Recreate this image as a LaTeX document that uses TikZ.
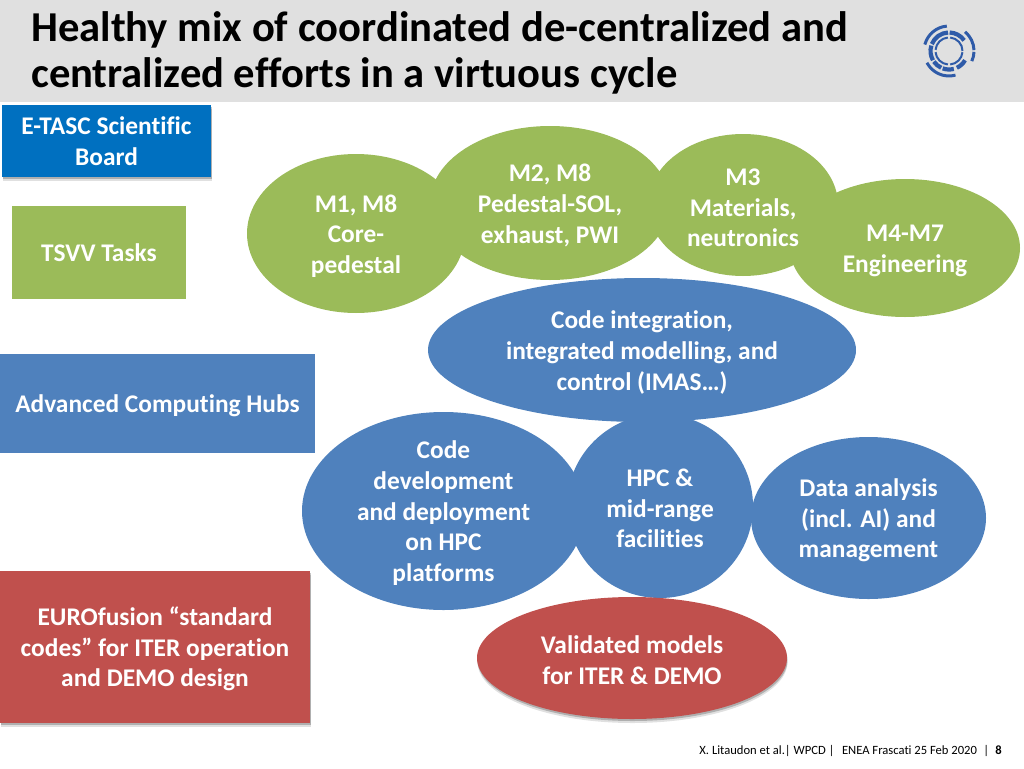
\documentclass[tikz,border=0pt]{standalone}
\usepackage{fontspec}
\setmainfont[Ligatures={NoCommon}]{Carlito}
\usetikzlibrary{shapes.geometric,shadows}
\definecolor{bandgray}{HTML}{E0E0E0}
\definecolor{boardblue}{HTML}{0070C0}
\definecolor{logoblue}{HTML}{2F5BA8}
\definecolor{tsvvgreen}{HTML}{9BBB59}
\definecolor{hubblue}{HTML}{4F81BD}
\definecolor{codered}{HTML}{C0504D}
\newcommand{\lowline}{\rule{0pt}{22.5pt}}
\tikzset{
  txt/.style={text=white,font=\bfseries\fontsize{25.4}{30.7}\selectfont,align=center,inner sep=0pt},
  blob/.style={shape=ellipse,txt,minimum width=#1},
  greenblob/.style={blob=#1,fill=tsvvgreen},
  blueblob/.style={blob=#1,fill=hubblue},
  softshadow/.style={drop shadow={shadow xshift=.5pt,shadow yshift=-4pt,opacity=.12,fill=black},
    drop shadow={shadow xshift=.5pt,shadow yshift=-2pt,opacity=.22,fill=black}},
  logoarc/.style={draw=logoblue,line width=#1}
}
\begin{document}
\begin{tikzpicture}[x=1pt,y=-1pt]
\useasboundingbox (0,0) rectangle (1024,768);
\fill [bandgray] (0,0) rectangle (1024,102);
\path (31,53) node (title) [anchor=west,inner sep=0pt,align=left,font=\bfseries\fontsize{42.6}{46}\selectfont] {Healthy mix of coordinated de-centralized and\\centralized efforts in a virtuous cycle};
% logo
\foreach \rad/\wid/\from/\to in {25/3/95/165,25/3/208/285,25/3/336/358,25/3/2/50,
  18.5/4.2/35/88,18.5/4.2/93/158,18.5/4.2/163/210,18.5/4.2/215/245,18.5/4.2/250/285,18.5/4.2/295/330,
  13.5/2/0/85,13.5/2/95/175,13.5/2/185/265,13.5/2/275/355}
  \draw [logoarc=\wid pt] (949,51) ++(-\from:\rad) arc [start angle=-\from,end angle=-\to,radius=\rad];
% left column
\path (106.5,141) node (board) [txt,fill=boardblue,minimum width=209pt,minimum height=72pt,softshadow] {E-TASC Scientific\\Board}
(99,252.5) node (tsvv) [txt,fill=tsvvgreen,minimum width=174pt,minimum height=93pt] {TSVV Tasks}
(157.5,403.5) node (hubs) [txt,fill=hubblue,minimum width=315pt,minimum height=99pt] {\lowline Advanced Computing Hubs}
(155,647) node (standard) [txt,fill=codered,minimum width=310pt,minimum height=152pt,softshadow] {\lowline EUROfusion “standard\\codes” for ITER operation\\and DEMO design};
% green row
\path (905,248) node (engineering) [greenblob=230pt,minimum height=138pt] {\lowline M4-M7\\Engineering}
(356,233.5) node (coreped) [greenblob=218pt,minimum height=159pt] {\lowline M1, M8\\Core-\\pedestal}
(550,203) node (pedsol) [greenblob=240pt,minimum height=154pt] {\lowline M2, M8\\Pedestal-SOL,\\exhaust, PWI}
(743,205) node (materials) [greenblob=190pt,minimum height=142pt] {\lowline M3\\Materials,\\neutronics};
% blue group
\path (642,350) node (integration) [blueblob=428pt,minimum height=144pt] {\lowline Code integration,\\integrated modelling, and\\control (IMAS…)}
(443.5,511) node (development) [blueblob=283pt,minimum height=198pt,inner ysep=-10pt] {\lowline Code\\development\\and deployment\\on HPC\\platforms}
(660,506) node (facilities) [blueblob=186pt,minimum height=184pt] {\lowline HPC \&\\mid-range\\facilities}
(868.5,518) node (analysis) [blueblob=235pt,minimum height=162pt] {\lowline Data analysis\\(incl. AI) and\\management};
\path (632,658) node (validated) [blob=310pt,minimum height=122pt,fill=codered,softshadow] {\lowline Validated models\\for ITER \& DEMO};
% footer
\path (1002,750.5) node (footer) [anchor=east,inner sep=0pt,font=\fontsize{12.6}{14}\selectfont] {X. Litaudon et al.| WPCD |\hspace{.6em}ENEA Frascati 25 Feb 2020\hspace{.5em}|\hspace{.5em}\textbf{8}};
\end{tikzpicture}
\end{document}
